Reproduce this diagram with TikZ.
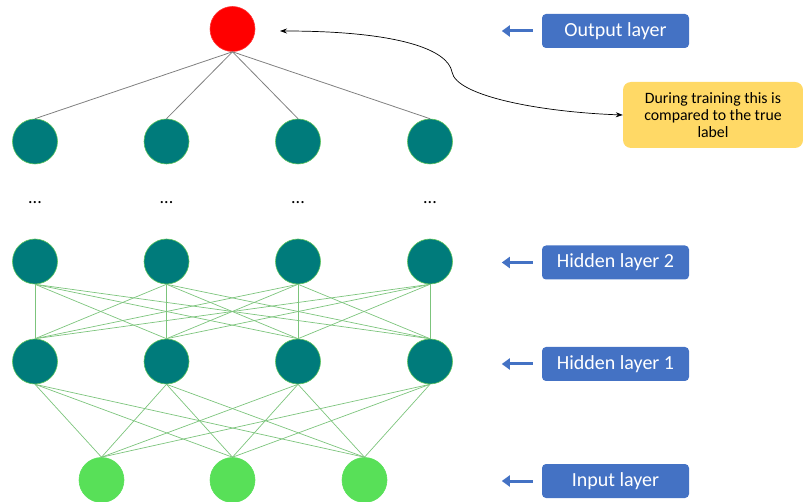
\documentclass[tikz,border=0pt]{standalone}
\usepackage{fontspec}
\setmainfont{Carlito}
\usetikzlibrary{arrows.meta}
\definecolor{tealn}{HTML}{007B7B}
\definecolor{rimg}{HTML}{5CC45C}
\definecolor{inpg}{HTML}{58E058}
\definecolor{edgeg}{HTML}{7CC47C}
\definecolor{officeblue}{HTML}{4472C4}
\definecolor{noteyellow}{HTML}{FFD966}
\tikzset{
  neuron/.style={circle, minimum size=45pt, inner sep=0pt, draw=rimg, line width=0.6pt},
  hid/.style={neuron, fill=tealn},
  outn/.style={neuron, fill=red, draw=red!80!white},
  inn/.style={neuron, fill=inpg, draw=inpg},
  gedge/.style={draw=edgeg, line width=0.7pt},
  kedge/.style={draw=gray, line width=0.8pt},
  layerlabel/.style={rectangle, rounded corners=4pt, fill=officeblue, text=white, minimum width=147pt, minimum height=34pt, inner sep=0pt, font=\fontsize{20}{24}\selectfont},
  labarrow/.style={draw=officeblue, line width=3pt, -{Triangle[length=8pt,width=11pt]}},
  note/.style={rectangle, rounded corners=8pt, fill=noteyellow, minimum width=180pt, minimum height=66pt, inner sep=2pt, align=center, font=\fontsize{15.8}{17}\selectfont},
  dots/.style={font=\fontsize{18}{18}\selectfont}
}
\begin{document}
\begin{tikzpicture}[x=1pt,y=-1pt]
\useasboundingbox (0,0) rectangle (803,502);
% output
\node[outn] (o) at (232.5,29) {};
% top teal row
\foreach \i/\x in {1/35,2/166.5,3/298,4/430}{
  \node[hid] (t\i) at (\x,141.5) {};
  \node[dots] (d\i) at (\x,203) {...};
  \node[hid] (a\i) at (\x,261.5) {};
  \node[hid] (b\i) at (\x,361.5) {};
}
\foreach \i/\x in {1/101.5,2/232.5,3/364.5}{
  \node[inn] (in\i) at (\x,480) {};
}
% edges
\foreach \i in {1,...,4}{
  \draw[kedge] (o.south) -- (t\i.north);
  \foreach \j in {1,...,4}{
    \draw[gedge] (a\i.south) -- (b\j.north);
  }
  \foreach \j in {1,2,3}{
    \draw[gedge] (b\i.south) -- (in\j.north);
  }
}
% labels
\node[layerlabel] (lo) at (615.5,31) {Output layer};
\node[layerlabel] (l2) at (615.5,262.5) {Hidden layer 2};
\node[layerlabel] (l1) at (615.5,364) {Hidden layer 1};
\node[layerlabel] (li) at (615.5,481) {Input layer};
\foreach \n in {lo,l2,l1,li}{
  \coordinate (s\n) at ([xshift=-9pt]\n.west);
  \coordinate (e\n) at ([xshift=-40pt]\n.west);
  \draw[labarrow] (s\n) -- (e\n);
}
% note
\node[note] (nt) at (713,115) {During training this is\\compared to the true\\label};
\coordinate (tipo) at (280,31);
\coordinate (mid) at (452,72);
\draw[black, line width=0.7pt, {Stealth[length=7pt,width=5pt]}-{Stealth[length=7pt,width=5pt]}]
  (tipo) .. controls (400,31) and (448,50) .. (mid)
  .. controls (456,96) and (540,112) .. (nt.west);
\end{tikzpicture}
\end{document}
